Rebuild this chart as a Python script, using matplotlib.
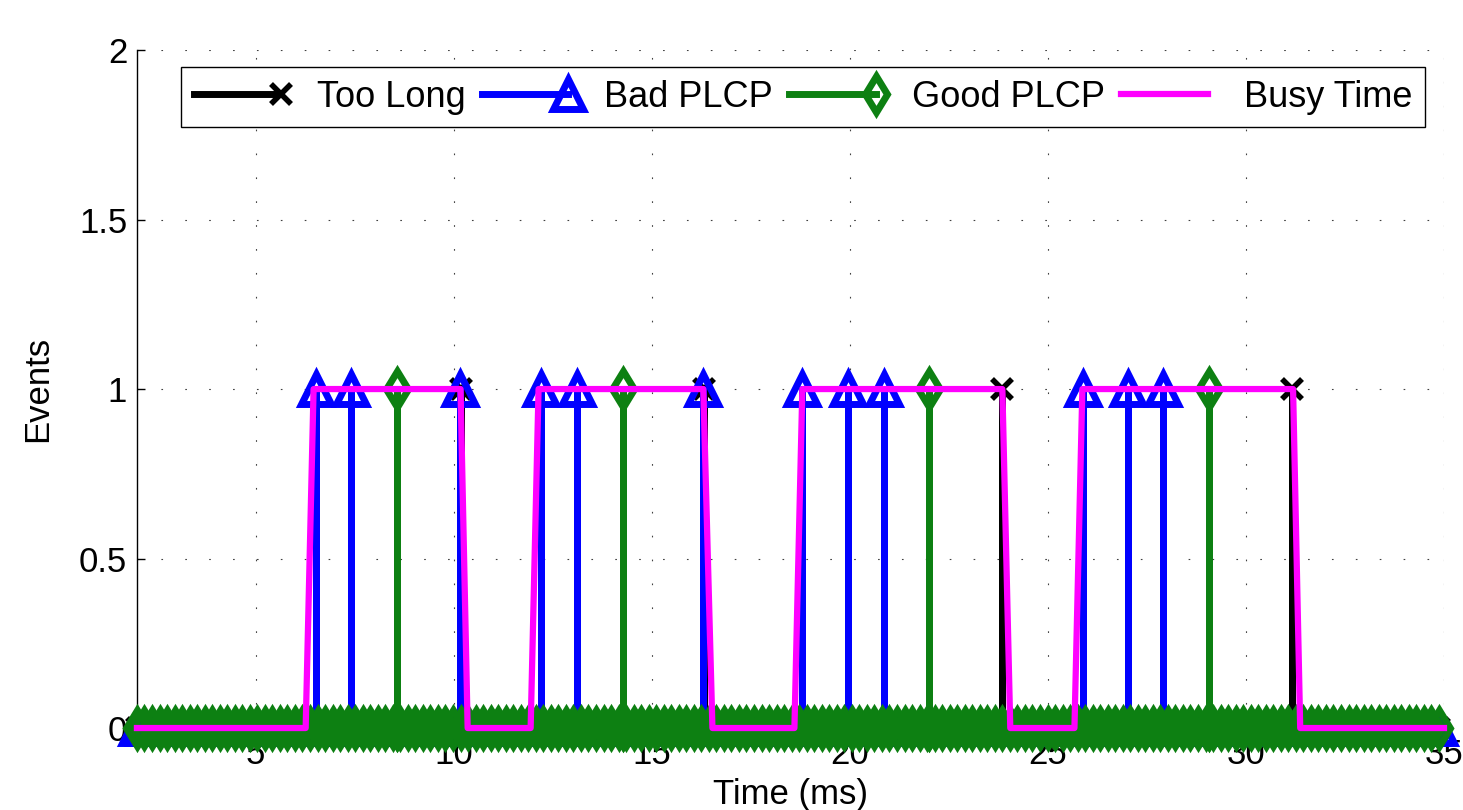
import numpy as np
import matplotlib
matplotlib.use("Agg")
import matplotlib.pyplot as plt
from matplotlib.lines import Line2D
from matplotlib.legend_handler import HandlerLine2D

plt.rcParams['font.family'] = ['Liberation Sans', 'DejaVu Sans']
plt.rcParams['font.size'] = 25
plt.rcParams['axes.linewidth'] = 1.0

# event times (ms)
too_long = [10.17, 16.32, 23.85, 31.17]
bad_plcp = [6.51, 7.40, 10.15, 12.19, 13.12, 16.30, 18.80, 19.96, 20.87,
            25.89, 27.03, 27.91]
good_plcp = [8.56, 14.26, 22.01, 29.07]

# busy time trace
busy_t = [2.0, 6.26, 6.46, 10.17, 10.35, 11.94, 12.14, 16.30, 16.53, 18.60,
          18.80, 23.85, 24.05, 25.67, 25.87, 31.19, 31.37, 35.0]
busy_v = [0, 0, 1, 1, 0, 0, 1, 1, 0, 0, 1, 1, 0, 0, 1, 1, 0, 0]

t_start, t_end, t_step = 2.0, 35.0, 0.19


def spikes(events):
    # zero samples with a 0-1-0 spike at every event
    pts = [(t, 0) for t in np.arange(t_start, t_end + 1e-9, t_step)]
    for e in events:
        pts += [(e, 0), (e, 1), (e, 0)]
    pts.sort(key=lambda p: p[0])
    return [p[0] for p in pts], [p[1] for p in pts]


class EndMarker(HandlerLine2D):
    # marker sits at the right end of the legend line, like matlab
    def create_artists(self, *args, **kw):
        arts = super().create_artists(*args, **kw)
        for a in arts:
            n = len(a.get_xdata())
            a.set_markevery([n - 1])
        return arts


fig = plt.figure(figsize=(14.63, 8.10), dpi=100)
ax = fig.add_axes([0.0936, 0.1012, 0.8934, 0.8370])

green = (0.05, 0.5, 0.07)
styles = [
    ("Too Long", too_long, dict(color='k', marker='x', ms=15, mew=4)),
    ("Bad PLCP", bad_plcp, dict(color='b', marker='^', ms=21, mew=5, mfc='none')),
    ("Good PLCP", good_plcp, dict(color=green, marker='d', ms=18, mew=5, mfc='none')),
]
handles = []
for name, ev, st in styles:
    x, y = spikes(ev)
    ax.plot(x, y, lw=5, clip_on=False, **st)
    handles.append(Line2D([], [], lw=5, label=name, **st))

ax.plot(busy_t, busy_v, color=(1, 0, 1), lw=4.5, clip_on=False)
handles.append(Line2D([], [], color=(1, 0, 1), lw=4.5, label="Busy Time"))

ax.set_xlim(2, 35)
ax.set_ylim(0, 2)
ax.set_xticks([5, 10, 15, 20, 25, 30, 35])
ax.set_yticks([0, 0.5, 1, 1.5, 2])
ax.set_yticklabels(["0", "0.5", "1", "1.5", "2"])
ax.tick_params(direction='in', length=6, width=1, pad=7)
ax.set_axisbelow(True)
ax.grid(True, color='0.25', linestyle=(0, (1.5, 20)), linewidth=0.8)
for s in ['top', 'right']:
    ax.spines[s].set_visible(False)
ax.spines['bottom'].set_zorder(1)
ax.spines['left'].set_zorder(1)

ax.set_xlabel("Time (ms)", labelpad=5)
ax.set_ylabel("Events", labelpad=18)

leg = ax.legend(handles=handles, ncol=4, loc='upper left', fontsize=26,
                handler_map={Line2D: EndMarker()},
                bbox_to_anchor=(0.034, 0.975), borderaxespad=0,
                handlelength=2.4, handletextpad=1.0, columnspacing=0.45,
                fancybox=False, framealpha=1, edgecolor='k',
                borderpad=0.35)
leg.get_frame().set_linewidth(1.0)

fig.savefig("out.png", dpi=100)
